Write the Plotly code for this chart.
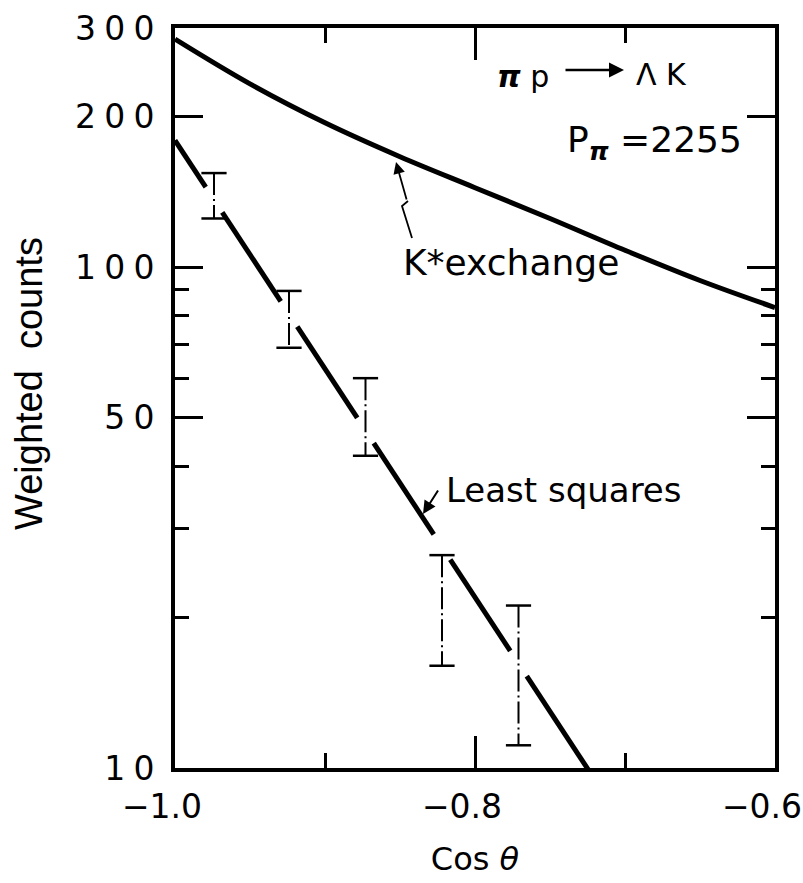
import plotly.graph_objects as go

# ---------------- data ----------------
# K* exchange prediction (smooth curve)
kstar_x = [-1.0, -0.95, -0.9, -0.85, -0.8, -0.75, -0.7, -0.65, -0.6]
kstar_y = [285, 232, 194, 166, 144, 125, 108, 94, 83]

# measured points (error-bar ends)
pt_x = [-0.974, -0.924, -0.873, -0.822, -0.771]
pt_hi = [154, 89.6, 60, 26.6, 21.1]
pt_lo = [125, 69, 42, 16, 11.1]

# least squares exponential fit: y = ls_a * 10**(-ls_b*(x+1))
ls_a = 179.0
ls_b = 4.56
ls_gap = 0.0055  # half-width of the break in the line at each error bar

# axis ticks
SP = "\u2005"
y_major = [10, 50, 100, 200, 300]
y_major_text = [SP.join(s) for s in ["10", "50", "100", "200", "300"]]
y_minor = [20, 30, 40, 60, 70, 80, 90]
x_major = [-1.0, -0.8, -0.6]
x_major_text = ["\u22121.0", "\u22120.8", "\u22120.6"]
x_minor = [-0.9, -0.7]

# ---------------- layout geometry ----------------
W, H = 803, 883
L, R, T, B = 175, 28, 28, 115
PW, PH = W - L - R, H - T - B


def px(xp):
    return (xp - L) / PW


def py(yp):
    return (H - B - yp) / PH


FONT = "DejaVu Sans"

fig = go.Figure()

# K* exchange curve
fig.add_trace(go.Scatter(x=kstar_x, y=kstar_y, mode="lines",
                         line=dict(color="black", width=5, shape="spline"),
                         hoverinfo="skip", showlegend=False))

# least squares line, broken at each data point
x_end = -0.6
seg_bounds = [-1.0]
for xv in pt_x:
    seg_bounds += [xv - ls_gap, xv + ls_gap]
seg_bounds.append(x_end)
ls_x, ls_y = [], []
for i in range(0, len(seg_bounds), 2):
    a, b = seg_bounds[i], seg_bounds[i + 1]
    for xv in (a, b):
        ls_x.append(xv)
        ls_y.append(ls_a * 10 ** (-ls_b * (xv + 1)))
    ls_x.append(None)
    ls_y.append(None)
fig.add_trace(go.Scatter(x=ls_x, y=ls_y, mode="lines",
                         line=dict(color="black", width=5),
                         hoverinfo="skip", showlegend=False))

# error bars (dash-dot verticals)
eb_x, eb_y = [], []
for xv, lo, hi in zip(pt_x, pt_lo, pt_hi):
    eb_x += [xv, xv, None]
    eb_y += [hi, lo, None]
fig.add_trace(go.Scatter(x=eb_x, y=eb_y, mode="lines",
                         line=dict(color="black", width=2, dash="22px,4px,2px,4px"),
                         hoverinfo="skip", showlegend=False))
# caps
fig.add_trace(go.Scatter(x=pt_x + pt_x, y=pt_hi + pt_lo, mode="markers",
                         marker=dict(symbol="line-ew", size=18,
                                     line=dict(color="black", width=2.5)),
                         hoverinfo="skip", showlegend=False))

tickfont = dict(family=FONT, size=33, color="black")

fig.update_xaxes(range=[-1.0, -0.6], tickmode="array", tickvals=x_major,
                 ticktext=x_major_text, ticks="inside", ticklen=32, tickwidth=3,
                 tickcolor="black", showline=True, linewidth=4, linecolor="black",
                 mirror="allticks", showgrid=False, zeroline=False,
                 tickfont=tickfont, ticklabeloverflow="allow",
                 ticklabelshift=-13, ticklabelstandoff=6, automargin=False,
                 minor=dict(tickvals=x_minor, ticks="inside", ticklen=15,
                            tickwidth=3, tickcolor="black", showgrid=False),
                 title=dict(text="Cos <i>\u03b8</i>", standoff=24,
                            font=dict(family=FONT, size=32, color="black")))

fig.update_yaxes(type="log", range=[1, 2.47712], tickmode="array",
                 tickvals=y_major, ticktext=y_major_text, ticks="inside",
                 ticklen=28, tickwidth=3, tickcolor="black", showline=True,
                 linewidth=4, linecolor="black", mirror="allticks",
                 showgrid=False, zeroline=False, tickfont=tickfont,
                 ticklabeloverflow="allow", ticklabelstandoff=10,
                 automargin=False,
                 minor=dict(tickvals=y_minor, ticks="inside", ticklen=14,
                            tickwidth=3, tickcolor="black", showgrid=False))

annotations = [
    # y-axis title
    dict(x=px(29), y=py(384), text="Weighted  counts", textangle=-90,
         showarrow=False,
         font=dict(family="Liberation Sans", size=38, color="black")),
    # reaction label
    dict(x=px(523), y=py(76), text="<b><i>\u03c0</i></b> p", showarrow=False,
         font=dict(family=FONT, size=30, color="black")),
    dict(x=px(624), y=py(70), ax=-60, ay=0, text="", showarrow=True,
         arrowhead=2, arrowsize=1.2, arrowwidth=2.5, arrowcolor="black"),
    dict(x=px(661), y=py(74), text="\u039b K", showarrow=False,
         font=dict(family=FONT, size=30, color="black")),
    # beam momentum
    dict(x=px(654), y=py(142), text="P<sub><b><i>\u03c0</i></b></sub> =2255",
         showarrow=False, font=dict(family=FONT, size=36, color="black")),
    # K* exchange label
    dict(x=px(511), y=py(262), text="K*exchange", showarrow=False,
         font=dict(family=FONT, size=36, color="black")),
    dict(x=px(396), y=py(162), ax=11, ay=39, text="", showarrow=True,
         arrowhead=2, arrowsize=1.3, arrowwidth=1.8, arrowcolor="black"),
    # least squares label
    dict(x=px(564), y=py(490), text="Least squares", showarrow=False,
         font=dict(family=FONT, size=34, color="black")),
    dict(x=px(423), y=py(514), ax=16, ay=-25, text="", showarrow=True,
         arrowhead=2, arrowsize=1.3, arrowwidth=2, arrowcolor="black"),
]
for a in annotations:
    a.setdefault("xref", "paper")
    a.setdefault("yref", "paper")
    a.setdefault("xanchor", "center")
    a.setdefault("yanchor", "middle")
fig.update_layout(annotations=annotations)

# wavy tail of the K* arrow
fig.add_shape(type="path", xref="paper", yref="paper",
              path=f"M {px(412)},{py(238)} L {px(402)},{py(206)} "
                   f"L {px(408)},{py(201)}",
              line=dict(color="black", width=1.8))

fig.update_layout(width=W, height=H, margin=dict(l=L, r=R, t=T, b=B),
                  plot_bgcolor="white", paper_bgcolor="white",
                  showlegend=False)

fig.write_html("out.html")
